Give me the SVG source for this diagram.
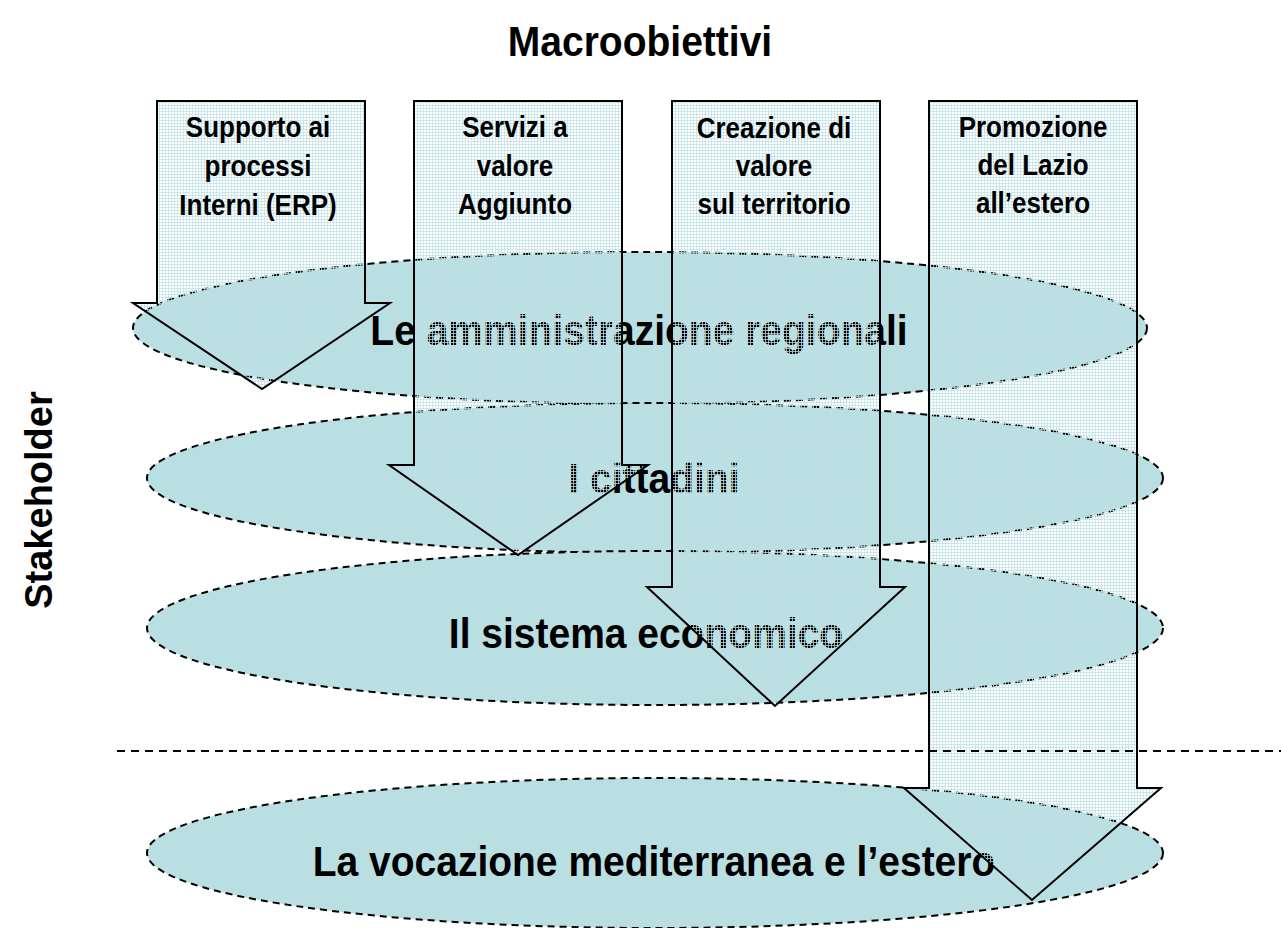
<svg xmlns="http://www.w3.org/2000/svg" width="1281" height="928" viewBox="0 0 1281 928">
<style>
.t{font-family:"Liberation Sans",Arial,sans-serif;font-weight:bold;fill:#000;text-anchor:middle}
.big{font-size:39px}
.lbl{font-size:26px}
.ell{fill:#badfe3;stroke:#000;stroke-width:2;stroke-dasharray:7 5}
.arr{fill:url(#grid);stroke:#000;stroke-width:2;stroke-linejoin:miter}
.sep{fill:none;stroke:#000;stroke-width:2;stroke-dasharray:8 6}
</style>
<defs>
<pattern id="grid" patternUnits="userSpaceOnUse" width="3" height="3">
<path d="M0 0.5H3M0.5 0V3" stroke="#bde0e5" stroke-width="1" stroke-opacity="0.75" fill="none"/>
</pattern>
</defs>
<rect width="1281" height="928" fill="#fff"/>
<text class="t big" transform="translate(640,56) scale(1,1.08)">Macroobiettivi</text>
<text class="t" font-size="38" transform="translate(52,500) rotate(-90)">Stakeholder</text>
<g id="stakeholder-1"><ellipse class="ell" cx="640" cy="328" rx="507" ry="76"/><text class="t big" transform="translate(639,345) scale(1,1.07)">Le amministrazione regionali</text></g>
<g id="stakeholder-2"><ellipse class="ell" cx="655" cy="478" rx="508" ry="75"/><text class="t big" transform="translate(654,493) scale(1,1.07)">I cittadini</text></g>
<g id="stakeholder-3"><ellipse class="ell" cx="655" cy="628" rx="508" ry="77"/><text class="t big" transform="translate(646,648) scale(1,1.07)">Il sistema economico</text></g>
<g id="stakeholder-4"><ellipse class="ell" cx="655" cy="853" rx="508" ry="75"/><text class="t big" transform="translate(654,876) scale(1,1.07)">La vocazione mediterranea e l’estero</text></g>
<g id="macro-1"><polygon class="arr" points="157,101 365,101 365,303 390,303 262,389 133,303 157,303"/>
<text class="t lbl" transform="translate(258,137) scale(1,1.12)">Supporto ai</text><text class="t lbl" transform="translate(258,176) scale(1,1.12)">processi</text><text class="t lbl" transform="translate(258,215) scale(1,1.12)">Interni (ERP)</text></g>
<g id="macro-2"><polygon class="arr" points="414,101 622,101 622,465 648,465 518,555 389,465 414,465"/>
<text class="t lbl" transform="translate(515,137) scale(1,1.12)">Servizi a</text><text class="t lbl" transform="translate(515,176) scale(1,1.12)">valore</text><text class="t lbl" transform="translate(515,214) scale(1,1.12)">Aggiunto</text></g>
<g id="macro-3"><polygon class="arr" points="672,101 880,101 880,587 905,587 775,706 647,587 672,587"/>
<text class="t lbl" transform="translate(774,138) scale(1,1.12)">Creazione di</text><text class="t lbl" transform="translate(774,176) scale(1,1.12)">valore</text><text class="t lbl" transform="translate(774,214) scale(1,1.12)">sul territorio</text></g>
<g id="macro-4"><polygon class="arr" points="929,101 1137,101 1137,788 1161,788 1032,900 904,788 929,788"/>
<text class="t lbl" transform="translate(1033,137) scale(1,1.12)">Promozione</text><text class="t lbl" transform="translate(1033,175) scale(1,1.12)">del Lazio</text><text class="t lbl" transform="translate(1033,213) scale(1,1.12)">all’estero</text></g>
<g id="connectors"><line class="sep" x1="117" y1="751" x2="1281" y2="751"/></g>
</svg>
